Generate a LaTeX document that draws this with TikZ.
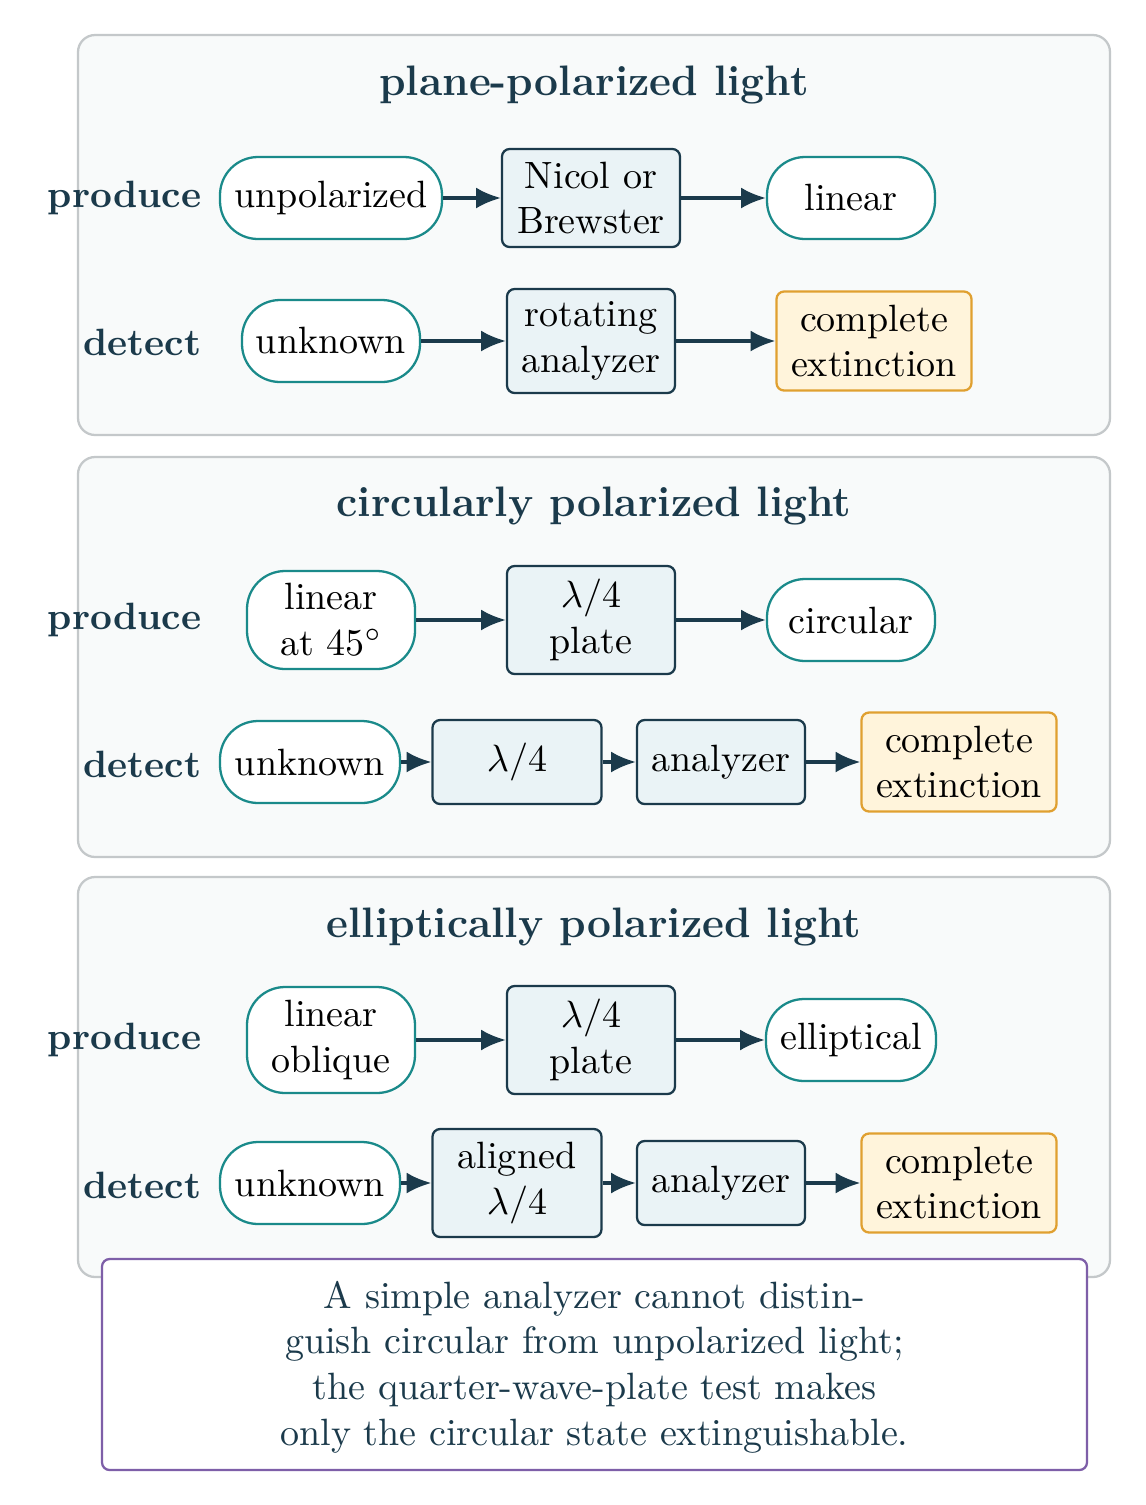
\documentclass[tikz,border=0pt]{standalone}
\usetikzlibrary{arrows.meta}
\definecolor{ink}{HTML}{1B3A4B}
\definecolor{tealb}{HTML}{1A8A8A}
\definecolor{devfill}{HTML}{EAF3F6}
\definecolor{amber}{HTML}{E0A030}
\definecolor{resfill}{HTML}{FFF4DB}
\definecolor{panelfill}{HTML}{F8FAFA}
\definecolor{panelline}{HTML}{C4C8CA}
\definecolor{notec}{HTML}{7E5FA8}
\begin{document}
\begin{tikzpicture}[x=0.263pt,y=-0.263pt,
  sz/.style 2 args={minimum width=#1*0.263pt, minimum height=#2*0.263pt},
  pill/.style={draw=tealb, fill=white, rounded corners=10pt, line width=0.6pt, align=center, inner sep=2pt},
  dev/.style={draw=ink, fill=devfill, rounded corners=2pt, line width=0.6pt, align=center, inner sep=2pt},
  res/.style={draw=amber, fill=resfill, rounded corners=2pt, line width=0.6pt, align=center, inner sep=3pt},
  flow/.style={-{Latex[length=6.5pt,width=5.5pt]}, line width=0.8pt, draw=ink},
  panel/.style={draw=panelline, fill=panelfill, rounded corners=4.5pt, line width=0.6pt, inner sep=0pt},
  ttl/.style={font=\fontsize{11.2}{13}\selectfont\bfseries, text=ink},
  lbl/.style={font=\bfseries, text=ink, anchor=east, inner sep=0pt},
  note/.style={draw=notec, fill=white, rounded corners=2pt, line width=0.6pt, text=ink, align=center}]
\useasboundingbox (0,0) rectangle (1146,1505);
\fill[white] (0,0) rectangle (1146,1505);

% panels
\node[panel, sz={1032}{400}] (p1) at (594,235) {};
\node[panel, sz={1032}{400}] (p2) at (594,657) {};
\node[panel, sz={1032}{400}] (p3) at (594,1077) {};

% titles
\node[ttl] (t1) at (594,85) {plane-polarized light};
\node[ttl] (t2) at (594,506) {circularly polarized light};
\node[ttl] (t3) at (594,927) {elliptically polarized light};

% row labels
\node[lbl] (l1a) at (202,198) {produce};
\node[lbl] (l1b) at (202,342) {detect};
\node[lbl] (l2a) at (202,620) {produce};
\node[lbl] (l2b) at (202,764) {detect};
\node[lbl] (l3a) at (202,1040) {produce};
\node[lbl] (l3b) at (202,1185) {detect};

% panel 1
\node[pill, sz={222}{82}] (a1) at (331,198) {unpolarized};
\node[dev, sz={178}{98}] (a2) at (591,198) {Nicol or\\Brewster};
\node[pill, sz={168}{82}] (a3) at (851,198) {linear};
\node[pill, sz={178}{82}] (b1) at (331,341) {unknown};
\node[dev, sz={168}{104}] (b2) at (591,341) {rotating\\analyzer};
\node[res, sz={195}{99}] (b3) at (874,341) {complete\\extinction};
\draw[flow] (a1) -- (a2);
\draw[flow] (a2) -- (a3);
\draw[flow] (b1) -- (b2);
\draw[flow] (b2) -- (b3);

% panel 2
\node[pill, sz={168}{98}] (c1) at (331,620) {linear\\at 45$^\circ$};
\node[dev, sz={168}{108}] (c2) at (591,620) {$\lambda/4$\\plate};
\node[pill, sz={168}{82}] (c3) at (851,620) {circular};
\node[pill, sz={180}{82}] (d1) at (310,762) {unknown};
\node[dev, sz={169}{84}] (d2) at (517,762) {$\lambda/4$};
\node[dev, sz={168}{84}] (d3) at (721,762) {analyzer};
\node[res, sz={195}{99}] (d4) at (959,762) {complete\\extinction};
\draw[flow] (c1) -- (c2);
\draw[flow] (c2) -- (c3);
\draw[flow] (d1) -- (d2);
\draw[flow] (d2) -- (d3);
\draw[flow] (d3) -- (d4);

% panel 3
\node[pill, sz={168}{106}] (e1) at (331,1040) {linear\\oblique};
\node[dev, sz={168}{108}] (e2) at (591,1040) {$\lambda/4$\\plate};
\node[pill, sz={170}{82}] (e3) at (851,1040) {elliptical};
\node[pill, sz={180}{82}] (f1) at (310,1183) {unknown};
\node[dev, sz={169}{108}] (f2) at (517,1183) {aligned\\$\lambda/4$};
\node[dev, sz={168}{84}] (f3) at (721,1183) {analyzer};
\node[res, sz={195}{99}] (f4) at (959,1183) {complete\\extinction};
\draw[flow] (e1) -- (e2);
\draw[flow] (e2) -- (e3);
\draw[flow] (f1) -- (f2);
\draw[flow] (f2) -- (f3);
\draw[flow] (f3) -- (f4);

% note
\node[note, sz={985}{211}] (n) at (594.5,1364.5) {};
\node[text=ink, align=center] (nt) at (594.5,1367) {A simple analyzer cannot distin-\\guish circular from unpolarized light;\\the quarter-wave-plate test makes\\only the circular state extinguishable.};
\end{tikzpicture}
\end{document}
